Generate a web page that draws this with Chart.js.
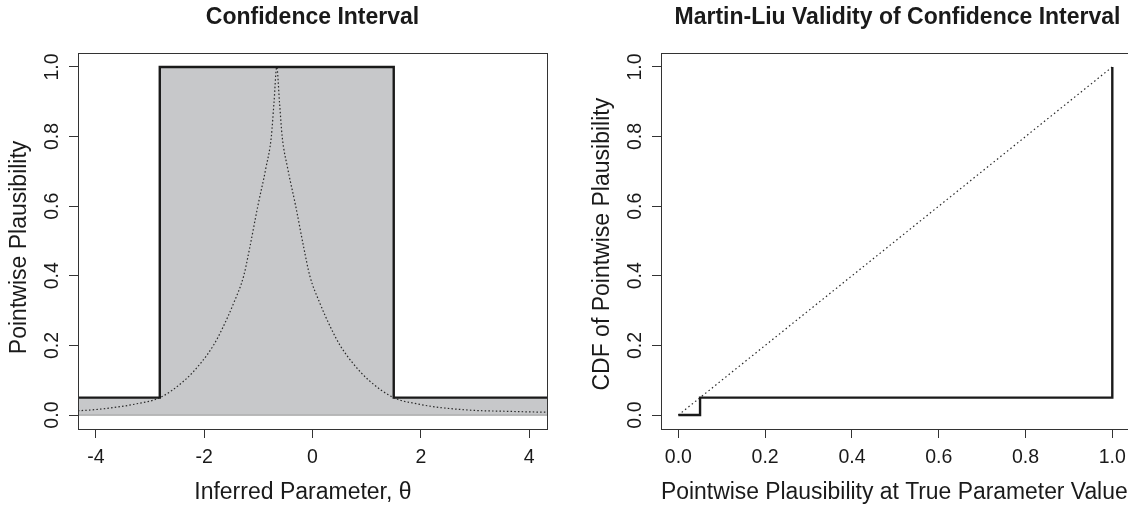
<!DOCTYPE html>
<html>
<head>
<meta charset="utf-8">
<script src="https://cdn.jsdelivr.net/npm/chart.js@4.4.1/dist/chart.umd.min.js"></script>
<style>
html, body { margin: 0; padding: 0; background: #fff; overflow: hidden; width: 1128px; height: 507px; }
canvas { position: absolute; top: 0; }
#ci { left: 0; }
#ml { left: 583px; }
</style>
</head>
<body>
<canvas id="ci" width="583" height="507"></canvas>
<canvas id="ml" width="583" height="507"></canvas>
<script>
// left panel: interval plausibility (step) and pointwise plausibility curve (dotted)
var stepX = [-4.5, -2.82, 1.50, 4.5];
var stepY = [0.05, 1, 0.05, 0.05];
var curveX = [-4.40, -4.06, -3.66, -3.26, -2.82, -2.36, -2.06, -1.83, -1.66, -1.46,
              -1.27, -1.16, -1.01, -0.86, -0.76, -0.71, -0.66, -0.61, -0.56, -0.46,
              -0.31, -0.16, -0.05, 0.14, 0.34, 0.51, 0.74, 1.04, 1.50, 1.94,
              2.34, 2.74, 3.04, 3.54, 4.04, 4.40];
var curveY = [0.012, 0.015, 0.022, 0.032, 0.05, 0.10, 0.15, 0.20, 0.25, 0.32,
              0.40, 0.48, 0.60, 0.71, 0.80, 0.90, 1.00, 0.90, 0.80, 0.71,
              0.60, 0.48, 0.40, 0.32, 0.25, 0.20, 0.15, 0.10, 0.05, 0.032,
              0.022, 0.016, 0.013, 0.011, 0.009, 0.008];
var zeroX = [-4.5, 4.5];
var zeroY = [0, 0];
var thetaTicks = [-4, -2, 0, 2, 4];

// right panel: CDF of plausibility at the true value, and the uniform reference
var cdfX = [0, 0.05, 1, 1];
var cdfY = [0, 0.05, 0.05, 1];
var diagX = [0, 1];
var diagY = [0, 1];
var probTicks = [0, 0.2, 0.4, 0.6, 0.8, 1];

var FONT = '"Liberation Sans", Arial, Helvetica, sans-serif';
var INK = '#1a1a1a';

function pts(xs, ys) {
    return xs.map(function (x, i) { return { x: x, y: ys[i] }; });
}

// box round the plot and R-style rotated y tick labels
var framePlugin = {
    id: 'frame',
    afterDraw: function (chart) {
        var a = chart.chartArea, c = chart.ctx, ys = chart.scales.y;
        c.save();
        c.strokeStyle = '#333';
        c.lineWidth = 1;
        c.strokeRect(Math.round(a.left) + 0.5, Math.round(a.top) + 0.5,
                     Math.round(a.right - a.left), Math.round(a.bottom - a.top));
        c.fillStyle = INK;
        c.font = '19.5px ' + FONT;
        c.textAlign = 'center';
        c.textBaseline = 'alphabetic';
        ys.ticks.forEach(function (t) {
            c.save();
            c.translate(58, ys.getPixelForValue(t.value));
            c.rotate(-Math.PI / 2);
            c.fillText(t.value.toFixed(1), 0, 0);
            c.restore();
        });
        c.restore();
    }
};

function makeChart(id, title, xTitle, yTitle, xMin, xMax, xTicks, xFmt, padRight, datasets) {
    return new Chart(document.getElementById(id), {
        type: 'line',
        data: { datasets: datasets },
        options: {
            responsive: false,
            animation: false,
            layout: { padding: { left: 0, right: padRight, top: 0, bottom: 0 } },
            elements: { point: { radius: 0 } },
            plugins: {
                legend: { display: false },
                tooltip: { enabled: false },
                filler: { drawTime: 'beforeDatasetsDraw' },
                title: {
                    display: true, text: title, fullSize: false, color: INK,
                    font: { family: FONT, size: 23, weight: 'bold' },
                    padding: { top: 4, bottom: 21.4 }
                }
            },
            scales: {
                x: {
                    type: 'linear', min: xMin, max: xMax,
                    afterBuildTicks: function (s) { s.ticks = xTicks.map(function (v) { return { value: v }; }); },
                    afterFit: function (s) { s.height = 78; },
                    grid: { drawOnChartArea: false, tickLength: 9, color: '#333' },
                    border: { display: false },
                    ticks: { padding: 7.5, color: INK, font: { family: FONT, size: 19.5 }, maxRotation: 0, autoSkip: false, callback: xFmt },
                    title: { display: true, text: xTitle, color: INK, font: { family: FONT, size: 23 }, padding: { top: 0, bottom: 1 } }
                },
                y: {
                    type: 'linear', min: -0.04, max: 1.04,
                    afterBuildTicks: function (s) { s.ticks = probTicks.map(function (v) { return { value: v }; }); },
                    afterFit: function (s) { s.width = 78; },
                    grid: { drawOnChartArea: false, tickLength: 9, color: '#333' },
                    border: { display: false },
                    ticks: { display: false },
                    title: { display: true, text: yTitle, color: INK, font: { family: FONT, size: 23 }, padding: { top: 5.5, bottom: 0 } }
                }
            }
        },
        plugins: [framePlugin]
    });
}

makeChart('ci', 'Confidence Interval', 'Inferred Parameter, \u03b8   ', 'Pointwise Plausibility  ',
    -4.33, 4.33, thetaTicks, function (v) { return String(v); }, 36, [
    {
        data: pts(stepX, stepY), stepped: true, fill: 'origin',
        backgroundColor: '#c7c8ca', borderColor: INK, borderWidth: 2.4, order: 0
    },
    {
        data: pts(curveX, curveY), cubicInterpolationMode: 'monotone', fill: false,
        borderColor: '#2a2a2a', borderWidth: 1.2, borderDash: [1.5, 2.2], order: 1
    },
    {
        data: pts(zeroX, zeroY), fill: false,
        borderColor: '#a3a3a3', borderWidth: 1.2, order: 2
    }
]);

// the right panel's box runs past the edge of the picture
makeChart('ml', 'Martin-Liu Validity of Confidence Interval', 'Pointwise Plausibility at True Parameter Value ',
    'CDF of Pointwise Plausibility ', -0.04, 1.05, probTicks, function (v) { return v.toFixed(1); }, 32, [
    {
        data: pts(cdfX, cdfY), stepped: true, fill: false,
        borderColor: INK, borderWidth: 2.4, order: 0
    },
    {
        data: pts(diagX, diagY), fill: false,
        borderColor: '#2a2a2a', borderWidth: 1.2, borderDash: [1.5, 2.8], order: 1
    }
]);
</script>
</body>
</html>
